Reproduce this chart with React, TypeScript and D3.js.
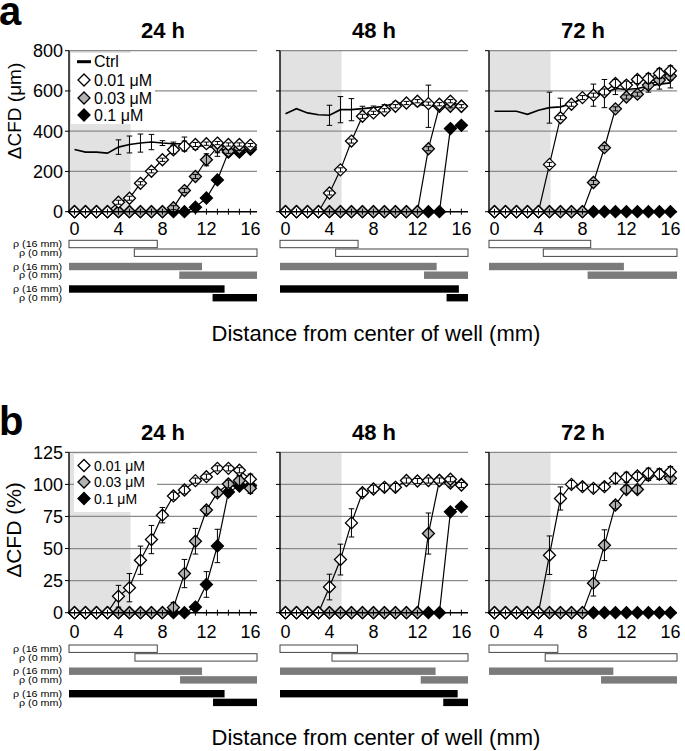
import React, { useEffect, useRef } from 'react';
import * as d3 from 'd3';

// Two rows of three small panels (24/48/72 h): ΔCFD vs distance from the
// well centre, plus the ρ range bars underneath each panel.

const W = 685;
const H = 751;
const FONT = '"Liberation Sans", Arial, Helvetica, sans-serif';

const DIST = [0, 1, 2, 3, 4, 5, 6, 7, 8, 9, 10, 11, 12, 13, 14, 15, 16];
const TIMES = ['24 h', '48 h', '72 h'];
const CONCS = ['0.01 μM', '0.03 μM', '0.1 μM'];
const UM_TICKS = [0, 200, 400, 600, 800];
const PCT_TICKS = [0, 25, 50, 75, 100, 125];
const X_TICKS = [0, 4, 8, 12, 16];
const RHO_LABELS = ['ρ (16 mm)', 'ρ (0 mm)'];
const SHADE_END = 5.1;

// panel a — ΔCFD (μm), one row per time point
const CTRL_UM = [
  [309, 296, 296, 291, 321, 334, 341, 346, 341, 338, 338, 329, 326, 313, 300, 305, 315],
  [487, 512, 491, 482, 479, 507, 507, 512, 517, 524, 540, 540, 534, 524, 524, 524, 524],
  [499, 499, 499, 484, 504, 517, 521, 537, 562, 579, 587, 612, 607, 612, 624, 634, 640],
];
const CTRL_UM_ERR = [
  [0, 0, 0, 0, 36, 42, 45, 38, 12, 8, 33, 20, 8, 38, 10, 10, 10],
  [0, 0, 0, 0, 50, 65, 55, 12, 8, 8, 8, 8, 8, 105, 10, 10, 10],
  [0, 0, 0, 0, 0, 77, 43, 10, 10, 55, 70, 30, 25, 25, 30, 25, 25],
];
const C001_UM = [
  [0, 0, 0, 0, 47, 67, 141, 201, 258, 308, 326, 334, 338, 341, 334, 334, 331],
  [0, 0, 0, 0, 93, 208, 351, 474, 491, 504, 524, 540, 549, 537, 534, 549, 524],
  [0, 0, 0, 0, 0, 235, 467, 534, 567, 579, 595, 637, 629, 657, 662, 687, 700],
];
const C001_UM_ERR = [
  [0, 0, 0, 0, 10, 10, 8, 8, 8, 20, 25, 10, 8, 8, 8, 8, 8],
  [0, 0, 0, 0, 10, 10, 10, 10, 8, 8, 8, 8, 8, 8, 8, 8, 8],
  [0, 0, 0, 0, 0, 10, 10, 10, 10, 10, 15, 20, 20, 20, 25, 25, 25],
];
const C003_UM = [
  [0, 0, 0, 0, 0, 0, 0, 0, 0, 20, 105, 175, 258, 321, 300, 315, 320],
  [0, 0, 0, 0, 0, 0, 0, 0, 0, 0, 0, 0, 0, 313, 524, 524, 524],
  [0, 0, 0, 0, 0, 0, 0, 0, 0, 145, 318, 511, 570, 584, 629, 654, 674],
];
const C003_UM_ERR = [
  [0, 0, 0, 0, 0, 0, 0, 0, 0, 10, 10, 10, 30, 28, 10, 10, 10],
  [0, 0, 0, 0, 0, 0, 0, 0, 0, 0, 0, 0, 0, 10, 8, 8, 8],
  [0, 0, 0, 0, 0, 0, 0, 0, 0, 10, 10, 10, 10, 10, 20, 20, 20],
];
const C01_UM = [
  [0, 0, 0, 0, 0, 0, 0, 0, 0, 0, 0, 22, 68, 158, 296, 296, 310],
  [0, 0, 0, 0, 0, 0, 0, 0, 0, 0, 0, 0, 0, 0, 0, 413, 429],
  [0, 0, 0, 0, 0, 0, 0, 0, 0, 0, 0, 0, 0, 0, 0, 0, 0],
];
const C01_UM_ERR = [
  [0, 0, 0, 0, 0, 0, 0, 0, 0, 0, 0, 5, 10, 10, 10, 10, 10],
  [0, 0, 0, 0, 0, 0, 0, 0, 0, 0, 0, 0, 0, 0, 0, 8, 8],
  [0, 0, 0, 0, 0, 0, 0, 0, 0, 0, 0, 0, 0, 0, 0, 0, 0],
];

// panel b — ΔCFD (%)
const C001_PCT = [
  [0, 0, 0, 0, 12.8, 19.5, 40.9, 57, 76, 91, 95.6, 102.9, 106, 112.5, 112.5, 111, 104],
  [0, 0, 0, 0, 20, 41.4, 70, 93.5, 96.4, 97.7, 97.7, 103, 102.6, 103, 103, 104, 99.5],
  [0, 0, 0, 0, 0, 44.8, 89, 100, 98.2, 96.9, 98.2, 104.7, 105.5, 106.5, 108.6, 108, 109.9],
];
const C001_PCT_ERR = [
  [0, 0, 0, 0, 8.5, 11, 11, 11, 6, 3, 3, 2, 2, 2, 2, 2, 4],
  [0, 0, 0, 0, 10, 12, 11, 3, 3, 3, 3, 2, 2, 2, 2, 2, 2],
  [0, 0, 0, 0, 0, 15, 9, 3, 3, 3, 3, 4, 4, 3, 4, 4, 4],
];
const C003_PCT = [
  [0, 0, 0, 0, 0, 0, 0, 0, 0, 4, 30.5, 55.7, 80, 93.5, 100.3, 103, 97],
  [0, 0, 0, 0, 0, 0, 0, 0, 0, 0, 0, 0, 0, 61.7, 103, 101, 100],
  [0, 0, 0, 0, 0, 0, 0, 0, 0, 23, 52.6, 83.9, 96, 96, 107, 108, 104.7],
];
const C003_PCT_ERR = [
  [0, 0, 0, 0, 0, 0, 0, 0, 0, 4, 11, 10, 3, 3, 3, 4, 4],
  [0, 0, 0, 0, 0, 0, 0, 0, 0, 0, 0, 0, 0, 16, 3, 3, 3],
  [0, 0, 0, 0, 0, 0, 0, 0, 0, 10, 12, 3, 3, 3, 4, 4, 4],
];
const C01_PCT = [
  [0, 0, 0, 0, 0, 0, 0, 0, 0, 0, 0, 4.4, 22, 52, 94, 98.7, 99],
  [0, 0, 0, 0, 0, 0, 0, 0, 0, 0, 0, 0, 0, 0, 0, 78.6, 82.5],
  [0, 0, 0, 0, 0, 0, 0, 0, 0, 0, 0, 0, 0, 0, 0, 0, 0],
];
const C01_PCT_ERR = [
  [0, 0, 0, 0, 0, 0, 0, 0, 0, 0, 0, 2, 10, 13, 3, 2, 3],
  [0, 0, 0, 0, 0, 0, 0, 0, 0, 0, 0, 0, 0, 0, 0, 2, 2],
  [0, 0, 0, 0, 0, 0, 0, 0, 0, 0, 0, 0, 0, 0, 0, 0, 0],
];

// ρ ranges (mm): where the 16 mm bar ends and where the 0 mm bar starts,
// per time point, per concentration (null = no bar)
const RHO16_A = [[7.53, 11.6, 13.65], [6.6, 13.75, 15.77], [8.75, 11.77, null]];
const RHO0_A = [[5.44, 9.53, 12.56], [4.56, 12.6, 14.65], [4.44, 8.47, null]];
const RHO16_B = [[7.53, 11.6, 13.65], [6.54, 13.65, 15.66], [5.76, 10.81, null]];
const RHO0_B = [[5.5, 9.6, 12.6], [4.23, 12.3, 14.35], [4.61, 9.69, null]];

const COL_X = [[69, 257], [280, 468], [489, 677]];
const X_DOMAIN = [-0.5, 16.6];
const MARKER_FILL = ['#ffffff', '#b2b2b2', '#000000'];
const BAR_FILL = ['#ffffff', '#7b7b7b', '#000000'];
const DIAMOND = 'M0,-6L6,0L0,6L-6,0Z';

function errorBars(g, vals, errs, x, y) {
  const idx = DIST.map((_d, k) => k).filter((k) => errs[k] > 0);
  const eb = g.append('g').attr('stroke', '#000').attr('stroke-width', 1);
  eb.selectAll('line.v')
    .data(idx)
    .join('line')
    .attr('x1', (k) => x(DIST[k]))
    .attr('x2', (k) => x(DIST[k]))
    .attr('y1', (k) => y(vals[k] - errs[k]))
    .attr('y2', (k) => y(vals[k] + errs[k]));
  [-1, 1].forEach((s) => {
    eb.selectAll(null)
      .data(idx)
      .join('line')
      .attr('x1', (k) => x(DIST[k]) - 2.8)
      .attr('x2', (k) => x(DIST[k]) + 2.8)
      .attr('y1', (k) => y(vals[k] + s * errs[k]))
      .attr('y2', (k) => y(vals[k] + s * errs[k]));
  });
}

function drawRow(svg, cfg) {
  const { top, bottom, yMax, yTicks, ctrl, ctrlErr, series, errs, rho16, rho0 } = cfg;

  svg.append('text')
    .attr('x', -1)
    .attr('y', cfg.letterY)
    .attr('font-size', 40)
    .attr('font-weight', 'bold')
    .text(cfg.letter);

  svg.append('text')
    .attr('transform', `translate(21,${cfg.yLabelCenter}) rotate(-90)`)
    .attr('text-anchor', 'middle')
    .attr('font-size', cfg.yLabelSize)
    .text(cfg.yLabel);

  svg.append('text')
    .attr('x', 376)
    .attr('y', cfg.distY)
    .attr('text-anchor', 'middle')
    .attr('font-size', 22)
    .text('Distance from center of well (mm)');

  TIMES.forEach((time, i) => {
    const [x0, x1] = COL_X[i];
    const x = d3.scaleLinear().domain(X_DOMAIN).range([x0, x1]);
    const y = d3.scaleLinear().domain([0, yMax]).range([bottom, top]);
    const g = svg.append('g');

    // grey band near the well centre
    g.append('rect')
      .attr('x', x0)
      .attr('y', top)
      .attr('width', x(SHADE_END) - x0)
      .attr('height', bottom - top)
      .attr('fill', '#e2e2e2');

    g.selectAll('line.grid')
      .data(yTicks.filter((t) => t > 0))
      .join('line')
      .attr('x1', x0)
      .attr('x2', x1)
      .attr('y1', (d) => y(d))
      .attr('y2', (d) => y(d))
      .attr('stroke', '#8a8a8a')
      .attr('stroke-width', 1.2);

    if (i === 0) {
      const [lx, ly, lw, lh] = cfg.legendBox;
      g.append('rect').attr('x', lx).attr('y', ly).attr('width', lw).attr('height', lh).attr('fill', '#fff');
      const items = ctrl ? ['Ctrl', ...CONCS] : CONCS;
      items.forEach((name, r) => {
        const cy = cfg.legendRows[r];
        if (name === 'Ctrl') {
          g.append('line').attr('x1', 77).attr('x2', 91).attr('y1', cy).attr('y2', cy)
            .attr('stroke', '#000').attr('stroke-width', 3);
        } else {
          const c = CONCS.indexOf(name);
          g.append('path').attr('d', DIAMOND).attr('transform', `translate(84,${cy})`)
            .attr('fill', MARKER_FILL[c]).attr('stroke', '#000').attr('stroke-width', 1.3);
        }
        g.append('text').attr('x', 94).attr('y', cy + cfg.legendFont * 0.36)
          .attr('font-size', cfg.legendFont).text(name);
      });
    }

    const line = d3.line().x((_d, k) => x(DIST[k])).y((d) => y(d));

    if (ctrl) {
      g.append('path').datum(ctrl[i]).attr('d', line)
        .attr('fill', 'none').attr('stroke', '#000').attr('stroke-width', 1.6);
      errorBars(g, ctrl[i], ctrlErr[i], x, y);
    }

    [2, 1, 0].forEach((c) => {
      const vals = series[c][i];
      g.append('path').datum(vals).attr('d', line)
        .attr('fill', 'none').attr('stroke', '#000').attr('stroke-width', 1.2);
      g.append('g')
        .selectAll('path')
        .data(vals)
        .join('path')
        .attr('d', DIAMOND)
        .attr('transform', (d, k) => `translate(${x(DIST[k])},${y(d)})`)
        .attr('fill', MARKER_FILL[c])
        .attr('stroke', '#000')
        .attr('stroke-width', 1.3);
      errorBars(g, vals, errs[c][i], x, y);
    });

    // axes
    g.append('line').attr('x1', x0).attr('x2', x0).attr('y1', top).attr('y2', bottom)
      .attr('stroke', '#000').attr('stroke-width', 1.4);
    g.append('line').attr('x1', x0).attr('x2', x1).attr('y1', bottom).attr('y2', bottom)
      .attr('stroke', '#000').attr('stroke-width', 1.4);
    g.selectAll('line.yt')
      .data(yTicks)
      .join('line')
      .attr('x1', x0 - 4)
      .attr('x2', x0)
      .attr('y1', (d) => y(d))
      .attr('y2', (d) => y(d))
      .attr('stroke', '#000');
    g.selectAll('line.xt')
      .data(DIST)
      .join('line')
      .attr('x1', (d) => x(d))
      .attr('x2', (d) => x(d))
      .attr('y1', bottom - 3)
      .attr('y2', bottom + 3)
      .attr('stroke', '#000');
    g.selectAll('text.xl')
      .data(X_TICKS)
      .join('text')
      .attr('x', (d) => x(d))
      .attr('y', bottom + cfg.tickLabelDy)
      .attr('text-anchor', 'middle')
      .attr('font-size', 18)
      .text((d) => d);
    if (i === 0) {
      g.selectAll('text.yl')
        .data(yTicks)
        .join('text')
        .attr('x', x0 - 6)
        .attr('y', (d) => y(d) + 6.3)
        .attr('text-anchor', 'end')
        .attr('font-size', 18)
        .text((d) => d);
    }

    g.append('text')
      .attr('x', (x0 + x1) / 2)
      .attr('y', cfg.titleY)
      .attr('text-anchor', 'middle')
      .attr('font-size', 22)
      .attr('font-weight', 'bold')
      .text(time);

    // ρ range bars
    CONCS.forEach((_name, c) => {
      const t16 = cfg.barTop + c * 22.5;
      const t0 = t16 + 8.7;
      if (i === 0) {
        RHO_LABELS.forEach((lab, r) => {
          g.append('text')
            .attr('x', 62)
            .attr('y', (r === 0 ? t16 : t0) + 6.8)
            .attr('text-anchor', 'end')
            .attr('font-size', 9)
            .attr('textLength', r === 0 ? 49 : 43)
            .attr('lengthAdjust', 'spacingAndGlyphs')
            .text(lab);
        });
      }
      const end16 = rho16[i][c];
      const start0 = rho0[i][c];
      if (end16 == null) return;
      const stroke = c === 0 ? '#444' : 'none';
      g.append('rect').attr('x', x0).attr('y', t16).attr('width', x(end16) - x0).attr('height', 7.4)
        .attr('fill', BAR_FILL[c]).attr('stroke', stroke).attr('stroke-width', 1);
      g.append('rect').attr('x', x(start0)).attr('y', t0).attr('width', x1 - x(start0)).attr('height', 7.4)
        .attr('fill', BAR_FILL[c]).attr('stroke', stroke).attr('stroke-width', 1);
    });
  });
}

export default function App() {
  const ref = useRef(null);

  useEffect(() => {
    const svg = d3.select(ref.current);
    svg.selectAll('*').remove();
    svg.append('rect').attr('width', W).attr('height', H).attr('fill', '#fff');

    drawRow(svg, {
      letter: 'a',
      letterY: 25,
      titleY: 38,
      top: 50.7,
      bottom: 211.7,
      yMax: 800,
      yTicks: UM_TICKS,
      yLabel: 'ΔCFD (μm)',
      yLabelCenter: 111,
      yLabelSize: 19,
      tickLabelDy: 23,
      ctrl: CTRL_UM,
      ctrlErr: CTRL_UM_ERR,
      series: [C001_UM, C003_UM, C01_UM],
      errs: [C001_UM_ERR, C003_UM_ERR, C01_UM_ERR],
      rho16: RHO16_A,
      rho0: RHO0_A,
      barTop: 240.3,
      distY: 341,
      legendBox: [71, 53, 84, 71],
      legendRows: [61.7, 80, 98, 115],
      legendFont: 16,
    });

    drawRow(svg, {
      letter: 'b',
      letterY: 435,
      titleY: 440,
      top: 452.3,
      bottom: 612.7,
      yMax: 125,
      yTicks: PCT_TICKS,
      yLabel: 'ΔCFD (%)',
      yLabelCenter: 530,
      yLabelSize: 21,
      tickLabelDy: 25,
      ctrl: null,
      ctrlErr: null,
      series: [C001_PCT, C003_PCT, C01_PCT],
      errs: [C001_PCT_ERR, C003_PCT_ERR, C01_PCT_ERR],
      rho16: RHO16_B,
      rho0: RHO0_B,
      barTop: 645,
      distY: 745,
      legendBox: [74, 454, 83, 58],
      legendRows: [465.5, 482, 498.5],
      legendFont: 14,
    });
  }, []);

  return (
    <div style={{ position: 'absolute', left: 0, top: 0 }}>
      <svg ref={ref} width={W} height={H} style={{ display: 'block', fontFamily: FONT }} />
    </div>
  );
}
